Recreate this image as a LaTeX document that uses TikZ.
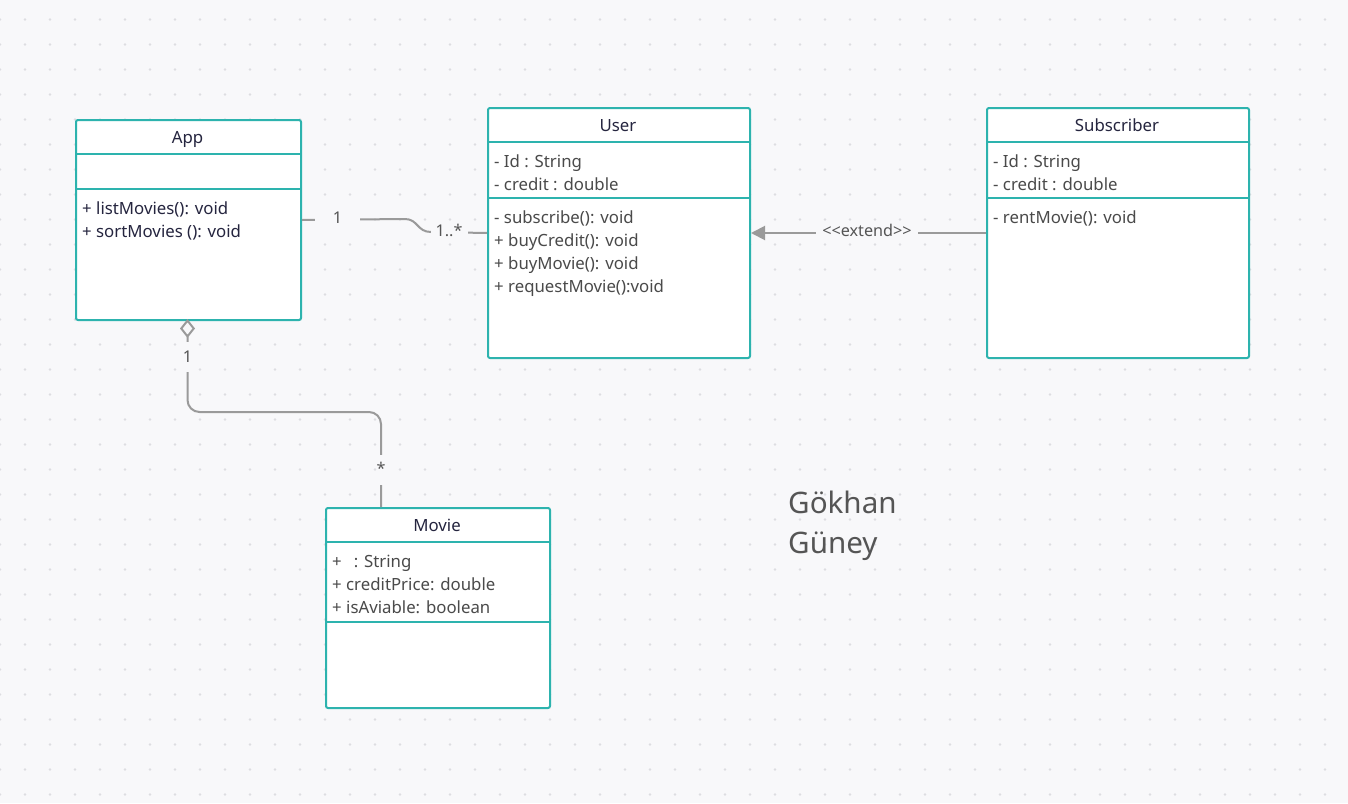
\documentclass[tikz,border=0pt]{standalone}
\usepackage{fontspec}
\newfontfamily\nsans{Noto Sans}
\usetikzlibrary{arrows.meta}
\definecolor{bg}{HTML}{F8F8FA}
\definecolor{dotc}{HTML}{DDDDE1}
\definecolor{clsteal}{HTML}{2DB3AE}
\definecolor{navy}{HTML}{25253F}
\definecolor{memgray}{HTML}{4A4A4A}
\definecolor{conngray}{HTML}{9A9A9A}
\definecolor{lblgray}{HTML}{555555}
\begin{document}
\begin{tikzpicture}[x=1pt,y=-1pt,
  cls/.style={draw=clsteal, line width=2pt, fill=white, rounded corners=2pt, anchor=north west, inner sep=0pt},
  divider/.style={draw=clsteal, line width=2pt},
  ctitle/.style={font=\nsans\fontsize{16.8}{20}\selectfont, text=navy, anchor=base, inner sep=0pt},
  member/.style={font=\nsans\fontsize{16.8}{20}\selectfont, text=memgray, anchor=base west, inner sep=0pt},
  navymember/.style={member, text=navy},
  conn/.style={draw=conngray, line width=2pt},
  lbl/.style={font=\nsans\fontsize{16.2}{18}\selectfont, text=lblgray, fill=bg, inner sep=0pt, text height=11pt, text depth=3pt},
  author/.style={font=\nsans\fontsize{29.6}{40}\selectfont, text=lblgray, anchor=base west, inner sep=0pt}
]
\useasboundingbox (0,0) rectangle (1348,803);
\fill[bg] (0,0) rectangle (1348,803);
\foreach \i in {0,...,54} {
  \foreach \j in {0,...,31} {
    \fill[dotc] (25*\i, 19.5+25*\j) circle (1.4pt);
  }
}

% ---------- classes ----------
\node[cls, minimum width=225pt, minimum height=200pt] (app) at (75,119) {};
\draw[divider] ([yshift=-35pt]app.north west) -- ([yshift=-35pt]app.north east);
\draw[divider] ([yshift=-70pt]app.north west) -- ([yshift=-70pt]app.north east);
\node[ctitle] (apptitle) at (187.5,143) {App};
\node[navymember] (appm1) at (82,214) {+ listMovies(): void};
\node[navymember] (appm2) at (82,237) {+ sortMovies (): void};

\node[cls, minimum width=262pt, minimum height=250pt] (user) at (487,107) {};
\draw[divider] ([yshift=-35pt]user.north west) -- ([yshift=-35pt]user.north east);
\draw[divider] ([yshift=-91pt]user.north west) -- ([yshift=-91pt]user.north east);
\node[ctitle] (usertitle) at (618,131) {User};
\node[member] (usera1) at (494,167) {- Id : String};
\node[member] (usera2) at (494,190) {- credit : double};
\node[member] (userm1) at (494,223) {- subscribe(): void};
\node[member] (userm2) at (494,246) {+ buyCredit(): void};
\node[member] (userm3) at (494,269) {+ buyMovie(): void};
\node[member] (userm4) at (494,292) {+ requestMovie():void};

\node[cls, minimum width=262pt, minimum height=250pt] (sub) at (986,107) {};
\draw[divider] ([yshift=-35pt]sub.north west) -- ([yshift=-35pt]sub.north east);
\draw[divider] ([yshift=-91pt]sub.north west) -- ([yshift=-91pt]sub.north east);
\node[ctitle] (subtitle) at (1117,131) {Subscriber};
\node[member] (suba1) at (993,167) {- Id : String};
\node[member] (suba2) at (993,190) {- credit : double};
\node[member] (subm1) at (993,223) {- rentMovie(): void};

\node[cls, minimum width=224pt, minimum height=200pt] (movie) at (325,507) {};
\draw[divider] ([yshift=-35pt]movie.north west) -- ([yshift=-35pt]movie.north east);
\draw[divider] ([yshift=-115pt]movie.north west) -- ([yshift=-115pt]movie.north east);
\node[ctitle] (movietitle) at (437,531) {Movie};
\node[member] (moviea1) at (332,567) {+\hspace{12pt}: String};
\node[member] (moviea2) at (332,590) {+ creditPrice: double};
\node[member] (moviea3) at (332,613) {+ isAviable: boolean};

% ---------- connectors ----------
% association App -- User
\draw[conn] (app.east) -- (405,219) .. controls (418,219) and (417,232) .. (431,232) -- (user.west);
\node[lbl, minimum width=45pt] (l1) at (337.5,219) {1};
\node[lbl, minimum width=37pt] (l2) at (449,232) {1..*};

% generalization Subscriber -> User
\draw[conn, -{Triangle[length=14pt,width=14pt]}] (sub.west) -- (user.east);
\node[lbl, minimum width=102pt] (l3) at (867,232) {<<extend>>};

% aggregation App <>-- Movie
\coordinate (aggA) at (187.5,319);
\coordinate (aggB) at (381,507);
\draw[conn, rounded corners=12pt, {Diamond[open,length=19pt,width=15pt]}-] (aggA) -- (187.5,412) -- (381,412) -- (aggB);
\node[lbl, minimum height=30pt, text depth=0pt] (l4) at (187.5,357) {1};
\node[lbl, minimum height=30pt, text height=8pt, text depth=0pt] (l5) at (381,470) {*};

% ---------- author ----------
\node[author] (auth1) at (788,513) {Gökhan};
\node[author] (auth2) at (788,553) {Güney};
\end{tikzpicture}
\end{document}
